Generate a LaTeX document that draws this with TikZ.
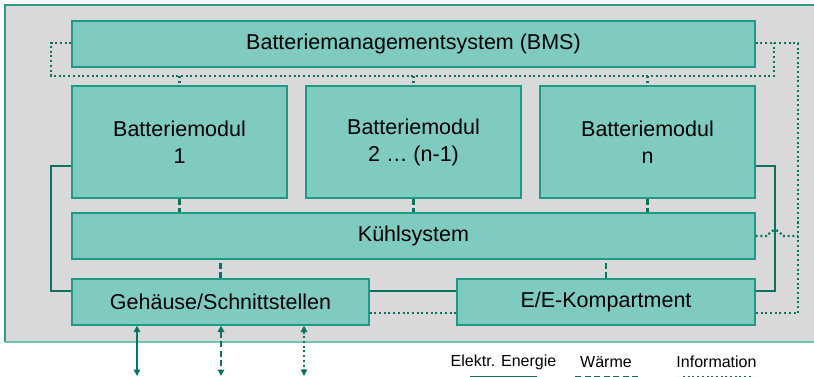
\documentclass[tikz,border=0pt]{standalone}
\usepackage{fontspec}
\setmainfont{Liberation Sans}
\usetikzlibrary{arrows.meta,calc}

\definecolor{panelgray}{HTML}{D9D9D9}
\definecolor{panelline}{HTML}{2A9C8A}
\definecolor{panellight}{HTML}{6CC3B3}
\definecolor{boxfill}{HTML}{7FCBBF}
\definecolor{boxline}{HTML}{1E9A85}
\definecolor{flow}{HTML}{0B7262}

\tikzset{
  box/.style={draw=boxline, line width=1.2pt, fill=boxfill, inner sep=0pt,
    align=center, font=\fontsize{21.5}{27}\selectfont, text=black},
  elec/.style={draw=flow, line width=2.8pt},
  heat/.style={draw=flow, line width=2.2pt, dash pattern=on 6pt off 3.5pt},
  info/.style={draw=flow, line width=2.2pt, dash pattern=on 2pt off 2.7pt},
  tip/.style={arrows={Triangle[width=6.5pt,length=6.5pt]-Triangle[width=6.5pt,length=6.5pt]}},
  legend/.style={font=\fontsize{16}{18}\selectfont, inner sep=0pt, text=black},
}

\begin{document}
\begin{tikzpicture}[x=1pt,y=-1pt]
\useasboundingbox (0,0) rectangle (814,377);

% background panel
\fill[panelgray] (5,5) rectangle (830,342);
\draw[panelline, line width=1.3pt] (830,5) -- (5,5) -- (5,342);
\draw[panellight, line width=1.3pt] (5,342) -- (830,342);

% components
\node[box, minimum width=683pt, minimum height=46pt] (bms) at (413.5,44) {Batteriemanagementsystem (BMS)};
\node[box, minimum width=215pt, minimum height=112pt] (m1) at (179.5,142) {Batteriemodul\\1};
\node[box, minimum width=215pt, minimum height=112pt] (m2) at (413.5,142) {Batteriemodul\\2 … (n-1)};
\node[box, minimum width=215pt, minimum height=112pt] (m3) at (647.5,142) {Batteriemodul\\n};
\node[box, minimum width=683pt, minimum height=46pt] (kuehl) at (413.5,236) {Kühlsystem};
\node[box, minimum width=297pt, minimum height=46pt] (geh) at (220.5,302) {Gehäuse/Schnittstellen};
\node[box, minimum width=298pt, minimum height=46pt] (ee) at (606,302) {E/E-Kompartment};

% routing levels
\coordinate (eL) at (51,0);
\coordinate (eR) at (775,0);
\coordinate (eTop) at (0,166);
\coordinate (eBot) at (0,291);
\coordinate (iL) at (51,0);
\coordinate (iR1) at (774,0);
\coordinate (iR2) at (798,0);
\coordinate (iTop) at (0,43);
\coordinate (iMid) at (0,76);
\coordinate (iK) at (0,236);
\coordinate (iBot) at (0,313);

% electrical energy
\draw[elec] (m1.west |- eTop) -| (eL |- eBot) -- (geh.west |- eBot);
\draw[elec] (m3.east |- eTop) -| (eR |- eBot) -- (ee.east |- eBot);
\draw[elec] (geh.east |- eBot) -- (ee.west |- eBot);

% heat
\draw[heat] (m1.south) -- (m1.south |- kuehl.north);
\draw[heat] (m2.south) -- (m2.south |- kuehl.north);
\draw[heat] (m3.south) -- (m3.south |- kuehl.north);
\draw[heat] (geh.north) -- (geh.north |- kuehl.south);
\draw[heat] (ee.north) -- (ee.north |- kuehl.south);

% information
\draw[info] (bms.west |- iTop) -| (iL |- iMid) -| (iR1 |- iTop);
\draw[info] (bms.east |- iTop) -| (iR2 |- iBot) -- (ee.east |- iBot);
\draw[info] (m1.north |- iMid) -- (m1.north);
\draw[info] (m2.north |- iMid) -- (m2.north);
\draw[info] (m3.north |- iMid) -- (m3.north);
\draw[info] (kuehl.east |- iK) -- ($(eR |- iK)+(-7,0)$)
  to[out=70,in=110,looseness=1.6] ($(eR |- iK)+(7,0)$) -- (iR2 |- iK);
\draw[info] (geh.east |- iBot) -- (ee.west |- iBot);

% external interfaces
\coordinate (x1) at (137,376);
\coordinate (x2) at (221,376);
\coordinate (x3) at (304,376);
\draw[elec, line width=2pt, tip] (geh.south -| x1) -- (x1);
\draw[heat, line width=2pt, tip] (geh.south -| x2) -- (x2);
\draw[info, line width=2pt, tip] (geh.south -| x3) -- (x3);

% legend
\node[legend] (lE) at (503.5,362) {Elektr. Energie};
\node[legend] (lW) at (606,362) {Wärme};
\node[legend] (lI) at (716.5,362) {Information};
\coordinate (lE1) at (470,377); \coordinate (lE2) at (537,377);
\coordinate (lW1) at (575,377); \coordinate (lW2) at (641,377);
\coordinate (lI1) at (683,377); \coordinate (lI2) at (752,377);
\draw[elec] (lE1) -- (lE2);
\draw[heat, line width=2.8pt] (lW1) -- (lW2);
\draw[info, line width=2.8pt] (lI1) -- (lI2);
\end{tikzpicture}
\end{document}
